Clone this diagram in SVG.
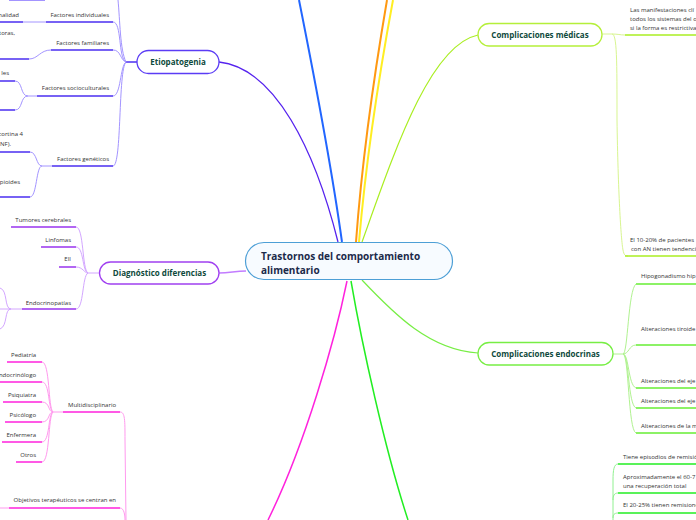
<svg xmlns="http://www.w3.org/2000/svg" width="696" height="520" viewBox="0 0 696 520">
<style>
.t{font-family:"Open Sans","Noto Sans","Liberation Sans",sans-serif;font-size:6px;fill:#333}
.e{text-anchor:end}
.n{font-family:"Open Sans","Noto Sans","Liberation Sans",sans-serif;font-size:8px;font-weight:bold;fill:#0f4a3c;text-anchor:middle}
.c{font-family:"Open Sans","Noto Sans","Liberation Sans",sans-serif;font-size:10px;font-weight:bold;fill:#1b2a4a}
path{fill:none}
.pu{stroke:#4a2ef0;stroke-width:1.5}.pl{stroke:#a394ff;stroke-width:1}
.vu{stroke:#9933ee;stroke-width:1.5}.vl{stroke:#d3a6ff;stroke-width:1}
.mu{stroke:#ff22dd;stroke-width:1.5}.ml{stroke:#ff99ee;stroke-width:1}
.yu{stroke:#aaee22;stroke-width:1.5}.yl{stroke:#d8f590;stroke-width:1}
.gu{stroke:#66ee33;stroke-width:1.5}.gl{stroke:#b0f290;stroke-width:1}
.bu{stroke:#22ee22;stroke-width:1.5}.bl{stroke:#90f090;stroke-width:1}
</style>
<g id="connectors">
<path d="M342,242 C332,170 315,80 299,0" stroke="#2266ff" stroke-width="2"/>
<path d="M356,242 C362,160 375,70 387,0" stroke="#ff9911" stroke-width="2"/>
<path d="M359,242 C366,160 380,70 393,0" stroke="#ffee22" stroke-width="2"/>
<path d="M219,62 C275,68 315,150 338,242" stroke="#5522ee" stroke-width="1.3"/>
<path d="M219,273 C230,273 235,271 246,271" stroke="#c27cff" stroke-width="1.3"/>
<path d="M347,281 C335,340 305,445 268,520" stroke="#ff22dd" stroke-width="1.5"/>
<path d="M351,281 C362,345 385,450 408,520" stroke="#22ee22" stroke-width="1.5"/>
<path d="M362,280 C395,315 430,350 478,353" stroke="#77ee44" stroke-width="1.2"/>
<path d="M362,242 C395,150 430,45 478,35" stroke="#aaee22" stroke-width="1.2"/>
<path class="pl" d="M9,0.5 L45,0.5"/>
<path class="pu" d="M137,62 L126,62"/>
<path class="pl" d="M126,62 C120,50 120,20 118,0"/>
<path class="pu" d="M46,22 L113,22"/><path class="pl" d="M113,22 C122,22 118,58 126,62"/>
<path class="pu" d="M0,22 L23,22"/><path class="pl" d="M23,22 L46,22"/>
<path class="pu" d="M51,50 L113,50"/><path class="pl" d="M113,50 C121,50 120,60 126,62"/>
<path class="pu" d="M0,59 L29,59"/><path class="pl" d="M29,59 C38,59 40,50 51,50"/>
<path class="pu" d="M37,96 L113,96"/><path class="pl" d="M113,96 C121,96 120,66 126,62"/>
<path class="pu" d="M0,81 L15,81"/><path class="pl" d="M15,81 C23,81 20,96 28,96 L37,96"/>
<path class="pu" d="M0,110 L15,110"/><path class="pl" d="M15,110 C23,110 20,96 28,96"/>
<path class="pu" d="M52,166 L113,166"/><path class="pl" d="M113,166 C122,166 118,70 126,62"/>
<path class="pu" d="M0,152 L30,152"/><path class="pl" d="M30,152 C37,152 36,166 42,166 L52,166"/>
<path class="pu" d="M0,197 L30,197"/><path class="pl" d="M30,197 C37,197 36,166 42,166"/>
<path class="vu" d="M11,227 L76,227"/><path class="vl" d="M76,227 C84,227 82,270 88,273"/>
<path class="vu" d="M41,247 L76,247"/><path class="vl" d="M76,247 C84,247 82,271 88,273"/>
<path class="vu" d="M59,267 L76,267"/><path class="vl" d="M76,267 C83,267 84,273 88,273"/>
<path class="vu" d="M22,309 L76,309"/><path class="vl" d="M76,309 C84,309 82,276 88,273"/>
<path class="vl" d="M88,273 L99,273"/>
<path class="vl" d="M0,309 L22,309"/>
<path class="vl" d="M11,309 C4,309 8,290 0,288"/>
<path class="vl" d="M11,309 C4,309 8,326 0,329"/>
<path class="mu" d="M63,412 L120,412"/><path class="ml" d="M53,412 L63,412"/>
<path class="ml" d="M120,412 C125,412 125,420 125,440 L126,520"/>
<path class="mu" d="M7,362 L42,362"/><path class="ml" d="M42,362 C50,362 48,408 53,412"/>
<path class="mu" d="M0,382 L42,382"/><path class="ml" d="M42,382 C50,382 48,410 53,412"/>
<path class="mu" d="M3,402 L42,402"/><path class="ml" d="M42,402 C50,402 48,412 53,412"/>
<path class="mu" d="M5,422 L42,422"/><path class="ml" d="M42,422 C50,422 48,412 53,412"/>
<path class="mu" d="M2,442 L42,442"/><path class="ml" d="M42,442 C50,442 48,414 53,412"/>
<path class="mu" d="M16,462 L42,462"/><path class="ml" d="M42,462 C50,462 48,416 53,412"/>
<path class="mu" d="M9,508 L120,508"/><path class="ml" d="M0,508 L9,508"/>
<path class="ml" d="M120,508 C124,508 125,515 125,520"/>
<path class="yl" d="M602,34 L612,34"/>
<path class="yu" d="M625,35 L696,35"/><path class="yl" d="M612,34 C618,34 620,35 625,35"/>
<path class="yl" d="M612,34 C617,34 617,60 617,120 C618,190 621,240 623,250 C624,255 625,256 628,256"/>
<path class="yu" d="M625,256 L696,256"/>
<path class="gl" d="M613,354 L623,354"/>
<path class="gu" d="M636,284 L696,284"/><path class="gl" d="M623,354 C628,354 628,290 636,284"/>
<path class="gu" d="M636,345 L696,345"/><path class="gl" d="M623,354 C629,354 629,345 636,345"/>
<path class="gu" d="M636,388 L696,388"/><path class="gl" d="M623,354 C629,354 628,385 636,388"/>
<path class="gu" d="M636,408 L696,408"/><path class="gl" d="M623,354 C629,354 628,405 636,408"/>
<path class="gu" d="M636,433 L696,433"/><path class="gl" d="M623,354 C629,354 628,430 636,433"/>
<path class="bu" d="M618,464 L696,464"/><path class="bl" d="M618,464 C614,464 613,470 613,480 L613,520"/>
<path class="bu" d="M618,493 L696,493"/><path class="bl" d="M618,493 C614,493 613,496 613,500"/>
<path class="bu" d="M618,513 L696,513"/><path class="bl" d="M618,513 C614,513 613,515 613,518"/>
</g>
<g id="center">
<rect x="245.5" y="242.5" width="207" height="37" rx="18.5" fill="#f7fbff" stroke="#4d9fd6" stroke-width="1.2"/>
<text class="c" x="261" y="260">Trastornos del comportamiento</text>
<text class="c" x="261" y="274">alimentario</text>
</g>
<g id="etiopatogenia">
<rect x="137" y="50.5" width="82" height="23" rx="11.5" fill="#fff" stroke="#5b3cf5" stroke-width="1.3"/>
<text class="n" x="178" y="65">Etiopatogenia</text>
<text class="t e" x="19" y="17">nalidad</text>
<text class="t e" x="109" y="17">Factores individuales</text>
<text class="t e" x="15" y="35">toras,</text>
<text class="t e" x="109" y="45">Factores familiares</text>
<text class="t e" x="9" y="75">les</text>
<text class="t e" x="109" y="90">Factores socioculturales</text>
<text class="t e" x="23" y="136">cortina 4</text>
<text class="t e" x="11" y="146">NF).</text>
<text class="t e" x="109" y="161">Factores genéticos</text>
<text class="t e" x="20" y="184">pioides</text>
</g>
<g id="diagnostico">
<rect x="99.5" y="262" width="119.5" height="22" rx="11" fill="#fff" stroke="#a040f0" stroke-width="1.3"/>
<text class="n" x="159.5" y="276">Diagnóstico diferencias</text>
<text class="t e" x="71" y="222">Tumores cerebrales</text>
<text class="t e" x="71" y="242">Linfomas</text>
<text class="t e" x="71" y="261">EII</text>
<text class="t e" x="71" y="305">Endocrinopatías</text>
</g>
<g id="tratamiento">
<text class="t e" x="116" y="407">Multidisciplinario</text>
<text class="t e" x="36" y="357">Pediatría</text>
<text class="t e" x="36" y="377">Endocrinólogo</text>
<text class="t e" x="36" y="397">Psiquiatra</text>
<text class="t e" x="36" y="417">Psicólogo</text>
<text class="t e" x="36" y="437">Enfermera</text>
<text class="t e" x="36" y="457">Otros</text>
<text class="t e" x="116" y="502">Objetivos terapéuticos se centran en</text>
</g>
<g id="complicaciones-medicas">
<rect x="478" y="23.5" width="124" height="22.5" rx="11.2" fill="#fff" stroke="#b5ef3a" stroke-width="1.3"/>
<text class="n" x="540" y="38">Complicaciones médicas</text>
<text class="t" x="630" y="12">Las manifestaciones clí</text>
<text class="t" x="630" y="21">todos los sistemas del o</text>
<text class="t" x="630" y="30">si la forma es restrictiva</text>
<text class="t" x="630" y="242">El 10-20% de pacientes</text>
<text class="t" x="631" y="251">con AN tienen tendenci</text>
</g>
<g id="complicaciones-endocrinas">
<rect x="478" y="342.5" width="135" height="22.5" rx="11.2" fill="#fff" stroke="#77ee44" stroke-width="1.3"/>
<text class="n" x="545.5" y="357">Complicaciones endocrinas</text>
<text class="t" x="641" y="278">Hipogonadismo hip</text>
<text class="t" x="641" y="331">Alteraciones tiroide</text>
<text class="t" x="641" y="383">Alteraciones del eje</text>
<text class="t" x="641" y="403">Alteraciones del eje</text>
<text class="t" x="641" y="428">Alteraciones de la m</text>
</g>
<g id="evolucion">
<text class="t" x="623" y="459">Tiene episodios de remisió</text>
<text class="t" x="623" y="479">Aproximadamente el 60-7</text>
<text class="t" x="623" y="488">una recuperación total</text>
<text class="t" x="623" y="507">El 20-25% tienen remisione</text>
</g>
</svg>
